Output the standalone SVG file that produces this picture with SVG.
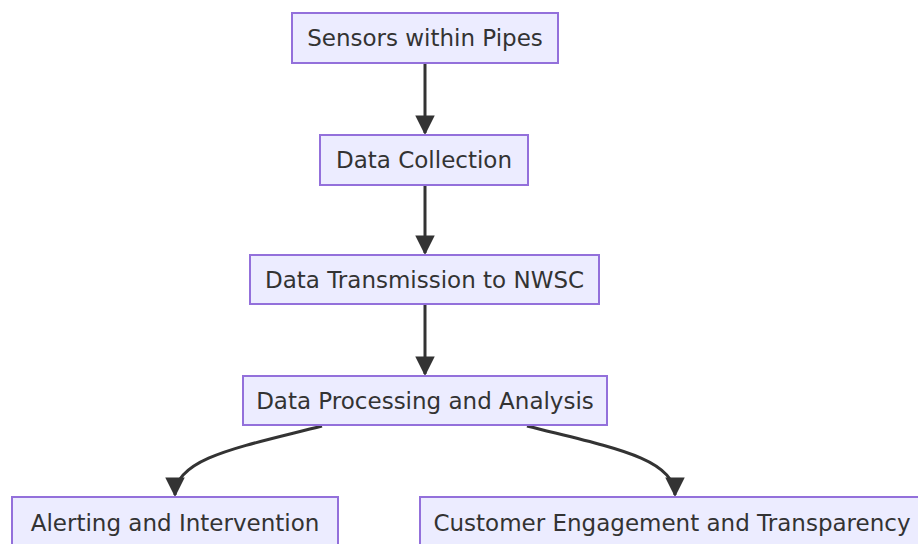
<svg xmlns="http://www.w3.org/2000/svg" width="918" height="544" viewBox="0 0 918 544">
<style>
.n rect{fill:#ECECFF;stroke:#9370DB;stroke-width:2}
.n text{font-family:"DejaVu Sans","Liberation Sans",sans-serif;font-size:23px;fill:#333;text-anchor:middle;dominant-baseline:central}
.e path{fill:none;stroke:#333;stroke-width:3}
</style>
<defs>
<marker id="ah" viewBox="0 0 10 10" refX="9" refY="5" markerWidth="6.5" markerHeight="6.5" orient="auto" markerUnits="strokeWidth">
<path d="M0,0 L10,5 L0,10 z" fill="#333"/>
</marker>
</defs>
<rect width="918" height="544" fill="#fff"/>
<g class="e">
<path d="M425,64 V133" marker-end="url(#ah)"/>
<path d="M425,186 V253" marker-end="url(#ah)"/>
<path d="M425,305 V374" marker-end="url(#ah)"/>
<path d="M322,426 C240,447 175,458 175,495" marker-end="url(#ah)"/>
<path d="M527,426 C610,447 675,458 675,495" marker-end="url(#ah)"/>
</g>
<g id="n1" class="n"><rect x="292" y="13" width="266" height="50"/><text x="425" y="38">Sensors within Pipes</text></g>
<g id="n2" class="n"><rect x="320" y="135" width="208" height="50"/><text x="424" y="160">Data Collection</text></g>
<g id="n3" class="n"><rect x="250" y="255" width="349" height="49"/><text x="424.5" y="279.5">Data Transmission to NWSC</text></g>
<g id="n4" class="n"><rect x="243" y="376" width="364" height="49"/><text x="425" y="400.5">Data Processing and Analysis</text></g>
<g id="n5" class="n"><rect x="12" y="497" width="326" height="52"/><text x="175" y="523">Alerting and Intervention</text></g>
<g id="n6" class="n"><rect x="420" y="497" width="506" height="52"/><text x="672" y="523">Customer Engagement and Transparency</text></g>
</svg>
